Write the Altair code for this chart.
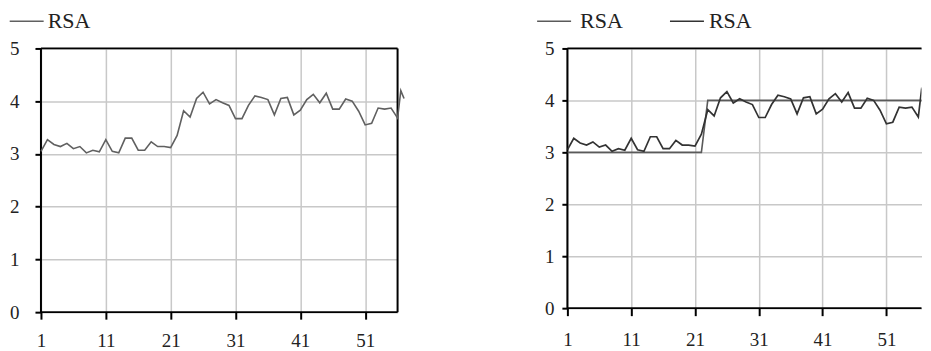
import altair as alt
import pandas as pd

# ---------------- data ----------------
x_vals = [1, 2, 3, 4, 5, 6, 7, 8, 9, 10,
          11, 12, 13, 14, 15, 16, 17, 18, 19, 20,
          21, 22, 23, 24, 25, 26, 27, 28, 29, 30,
          31, 32, 33, 34, 35, 36, 37, 38, 39, 40,
          41, 42, 43, 44, 45, 46, 47, 48, 49, 50,
          51, 52, 53, 54, 55, 56, 56.5, 57]
rsa_vals = [3.05, 3.27, 3.18, 3.14, 3.20, 3.10, 3.14, 3.02, 3.07, 3.04,
            3.27, 3.05, 3.02, 3.30, 3.30, 3.07, 3.07, 3.23, 3.14, 3.14,
            3.12, 3.35, 3.82, 3.70, 4.05, 4.17, 3.95, 4.03, 3.97, 3.92,
            3.67, 3.67, 3.92, 4.10, 4.07, 4.03, 3.74, 4.05, 4.07, 3.74,
            3.83, 4.03, 4.13, 3.97, 4.15, 3.85, 3.85, 4.04, 4.00, 3.81,
            3.55, 3.58, 3.87, 3.85, 3.87, 3.68, 4.20, 4.05]
step_x = [1, 22, 23, 57]
step_vals = [3, 3, 4, 4]
x_ticks = [1, 6, 11, 16, 21, 26, 31, 36, 41, 46, 51, 56]
y_ticks = [0, 1, 2, 3, 4, 5]
legend_names = ["RSA", "RSA"]

FONT = "Liberation Serif"
TICK_FS = 19
LEG_FS = 22
GRID = "#c8c8c8"
TXT = "#222222"

rsa_df = pd.DataFrame({"x": x_vals, "y": rsa_vals, "s": legend_names[1]})
step_df = pd.DataFrame({"x": step_x, "y": step_vals, "s": legend_names[0]})
left_vx = pd.DataFrame({"x": [x_ticks[0], x_ticks[-1]]})
left_hy = pd.DataFrame({"y": [y_ticks[0], y_ticks[-1]]})
right_vx = pd.DataFrame({"x": [x_ticks[0]]})
right_hy = pd.DataFrame({"y": [y_ticks[0], y_ticks[-1]]})

label_expr = "(datum.value - 1) % 10 == 0 ? datum.label : ''"


def x_axis(tick, pad):
    return alt.Axis(values=x_ticks, labelExpr=label_expr, grid=True,
                    gridColor=GRID, gridWidth=1.5, domain=False,
                    tickColor="black", tickWidth=2,
                    tickSize=tick, labelPadding=pad, labelFont=FONT,
                    labelFontSize=TICK_FS, labelColor=TXT, title=None,
                    labelFlush=False, labelOverlap=False)


def y_axis(tick, pad):
    return alt.Axis(values=y_ticks, grid=True, gridColor=GRID, gridWidth=1.5,
                    domain=False, tickColor="black",
                    tickWidth=2, tickSize=tick, labelPadding=pad,
                    labelFont=FONT, labelFontSize=TICK_FS, labelColor=TXT,
                    title=None, labelFlush=False, labelOverlap=False)


def legend(lx, ly, offset, width=1.6, sym_color=None):
    kw = dict(orient="none", legendX=lx, legendY=ly, title=None,
              symbolType="stroke", symbolSize=34 * 34,
              symbolStrokeWidth=width, labelFont=FONT,
              labelFontSize=LEG_FS, labelOffset=offset, padding=0,
              labelColor=TXT)
    if sym_color:
        kw["symbolStrokeColor"] = sym_color
    return alt.Legend(**kw)


def frame(df_v, df_h, xs, ys):
    v = alt.Chart(df_v).mark_rule(color="black", strokeWidth=2).encode(
        x=alt.X("x:Q", scale=xs))
    h = alt.Chart(df_h).mark_rule(color="black", strokeWidth=1.8).encode(
        y=alt.Y("y:Q", scale=ys))
    return [v, h]


LEG_Y = -45.2

# ---------------- left panel ----------------
xs_l = alt.Scale(domain=[1, 56], nice=False, zero=False)
ys_l = alt.Scale(domain=[0, 5], nice=False)

left_line = alt.Chart(rsa_df).mark_line(strokeWidth=1.6, clip=False).encode(
    x=alt.X("x:Q", scale=xs_l, axis=x_axis(7, 12)),
    y=alt.Y("y:Q", scale=ys_l, axis=y_axis(6, 16)),
    color=alt.Color("s:N", scale=alt.Scale(domain=[legend_names[1]],
                                           range=["#606060"]),
                    legend=legend(-32.3, LEG_Y, 3)),
)
left = alt.layer(*frame(left_vx, left_hy, xs_l, ys_l), left_line).properties(
    width=357, height=264, view=alt.ViewBackground(stroke=None))

# ---------------- right panel ----------------
xs_r = alt.Scale(domain=[1, 56.5], nice=False, zero=False)
ys_r = alt.Scale(domain=[0, 5], nice=False)

step_line = alt.Chart(step_df).mark_line(strokeWidth=1.6, clip=True).encode(
    x=alt.X("x:Q", scale=xs_r, axis=x_axis(7.5, 15)),
    y=alt.Y("y:Q", scale=ys_r, axis=y_axis(5.5, 8)),
    color=alt.Color("s:N", scale=alt.Scale(domain=[legend_names[0]],
                                           range=["#5a5a5a"]),
                    legend=legend(-31.3, LEG_Y, 8, 1.4, "#9a9a9a")),
)
rsa_line = alt.Chart(rsa_df).mark_line(strokeWidth=1.7, clip=True).encode(
    x=alt.X("x:Q", scale=xs_r),
    y=alt.Y("y:Q", scale=ys_r),
    color=alt.Color("s:N", scale=alt.Scale(domain=[legend_names[1]],
                                           range=["#333333"]),
                    legend=legend(101.7, LEG_Y, 4)),
)

right = alt.layer(*frame(right_vx, right_hy, xs_r, ys_r), step_line,
                  rsa_line).resolve_scale(color="independent").properties(
    width=354.5, height=260, view=alt.ViewBackground(stroke=None))

chart = alt.hconcat(left, right, spacing=170).properties(
    bounds="flush", background="white",
    padding={"top": -5.7, "left": 0, "right": 0, "bottom": 0}
).configure_view(strokeWidth=0)

chart.save("out.html", embed_options={"renderer": "svg", "actions": False})
